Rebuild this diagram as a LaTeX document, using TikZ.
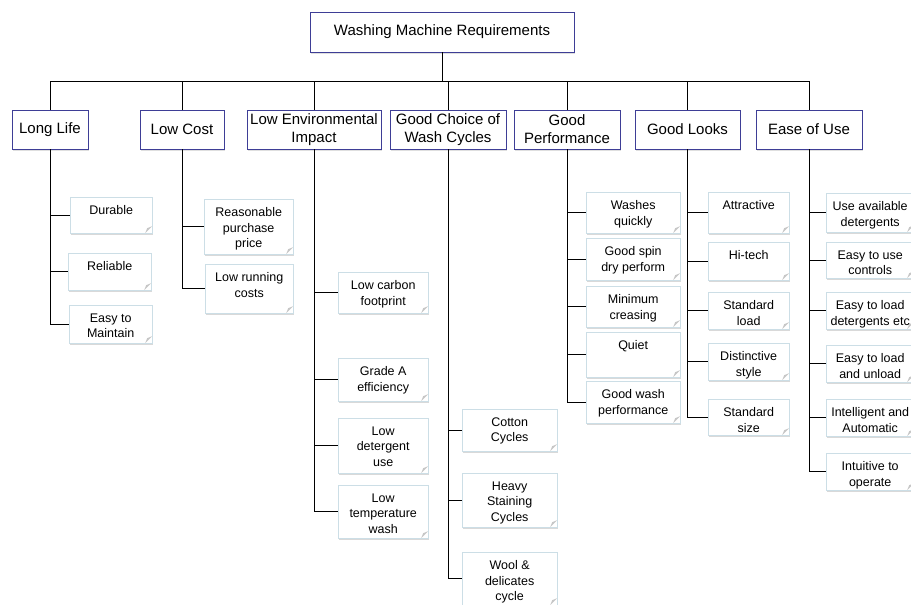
\documentclass[tikz,border=0pt]{standalone}
\usepackage{fontspec}
\setmainfont{Liberation Sans}
\usetikzlibrary{shadows}

\definecolor{catline}{RGB}{62,62,150}
\definecolor{reqline}{RGB}{204,222,230}
\newcommand{\req}[3]{\parbox[c][#2pt][t]{#1pt}{\vspace*{8.5pt}\centering #3\par}}

\begin{document}
\begin{tikzpicture}[x=1pt, y=-1pt,
    top/.style={rectangle, draw=catline, fill=white, minimum width=264pt, minimum height=40pt,
        font=\fontsize{15}{18}\selectfont, drop shadow={shadow xshift=1pt, shadow yshift=-1.5pt, opacity=0.25}},
    cat/.style={rectangle, draw=catline, fill=white, minimum width=#1pt, minimum height=39pt, inner sep=1pt,
        align=center, font=\fontsize{15}{18}\selectfont, drop shadow={shadow xshift=1pt, shadow yshift=-1.5pt, opacity=0.25}},
    leaf/.style={rectangle, draw=reqline, fill=white, anchor=north west, inner sep=0pt,
        font=\fontsize{12.5}{15.5}\selectfont, drop shadow={shadow xshift=1.2pt, shadow yshift=-1.5pt, opacity=0.3},
        path picture={\fill[gray!45] ([xshift=-7pt]path picture bounding box.south east)
            -- ([yshift=7pt]path picture bounding box.south east)
            -- ([xshift=-5pt, yshift=5pt]path picture bounding box.south east) -- cycle;}},
    link/.style={line width=1pt}]
    \useasboundingbox (0,0) rectangle (911,605);

    \node[top] (root) at (442,32) {Washing Machine Requirements};
    \coordinate (bus) at (442,81);

    % requirement groups
    \node[cat=76] (life) at (50,129.5) {Long Life};
    \node[cat=84] (cost) at (182,129.5) {Low Cost};
    \node[cat=134] (env) at (314,129.5) {Low Environmental\\Impact};
    \node[cat=116] (cycles) at (448,129.5) {Good Choice of\\Wash Cycles};
    \node[cat=106] (perf) at (567,129.5) {Good\\Performance};
    \node[cat=105] (looks) at (687.5,129.5) {Good Looks};
    \node[cat=106] (use) at (809,129.5) {Ease of Use};

    \foreach \g in {life, cost, env, cycles, perf, looks, use}
        \draw[link] (root.south) -- (bus) -| (\g.north);

    % Long Life
    \node[leaf] (durable) at (70,197) {\req{82}{36}{Durable}};
    \node[leaf] (reliable) at (68,253) {\req{83}{37}{Reliable}};
    \node[leaf] (maintain) at (69,305) {\req{83}{38}{Easy to\\Maintain}};

    % Low Cost
    \node[leaf] (price) at (204,199) {\req{89}{55}{Reasonable\\purchase\\price}};
    \node[leaf] (running) at (205,264) {\req{88}{49}{Low running\\costs}};

    % Low Environmental Impact
    \node[leaf] (carbon) at (338,272) {\req{90}{41}{Low carbon\\footprint}};
    \node[leaf] (grade) at (338,358) {\req{90}{43}{Grade A\\efficiency}};
    \node[leaf] (detergent) at (338,418) {\req{90}{55}{Low\\detergent\\use}};
    \node[leaf] (temp) at (338,485) {\req{90}{53}{Low\\temperature\\wash}};

    % Good Choice of Wash Cycles
    \node[leaf] (cotton) at (462,409) {\req{95}{42}{Cotton\\Cycles}};
    \node[leaf] (heavy) at (462,473) {\req{95}{54}{Heavy\\Staining\\Cycles}};
    \node[leaf] (wool) at (462,552) {\req{95}{53}{Wool \&\\delicates\\cycle}};

    % Good Performance
    \node[leaf] (quick) at (586,192) {\req{94}{41}{Washes\\quickly}};
    \node[leaf] (spin) at (586,238) {\req{94}{42}{Good spin\\dry perform}};
    \node[leaf] (crease) at (586,286) {\req{94}{41}{Minimum\\creasing}};
    \node[leaf] (quiet) at (586,332) {\req{94}{45}{Quiet}};
    \node[leaf] (washperf) at (586,381) {\req{94}{42}{Good wash\\performance}};

    % Good Looks
    \node[leaf] (attract) at (708,192) {\req{81}{41}{Attractive}};
    \node[leaf] (hitech) at (708,242) {\req{81}{38}{Hi-tech}};
    \node[leaf] (stdload) at (708,292) {\req{81}{37}{Standard\\load}};
    \node[leaf] (style) at (708,343) {\req{81}{37}{Distinctive\\style}};
    \node[leaf] (stdsize) at (708,399) {\req{81}{36}{Standard\\size}};

    % Ease of Use
    \node[leaf] (avail) at (826,193) {\req{88}{39}{Use available\\detergents}};
    \node[leaf] (controls) at (826,242) {\req{88}{36}{Easy to use\\controls}};
    \node[leaf] (loaddet) at (826,292) {\req{88}{37}{Easy to load\\detergents etc}};
    \node[leaf] (unload) at (826,345) {\req{88}{37}{Easy to load\\and unload}};
    \node[leaf] (auto) at (826,399) {\req{88}{37}{Intelligent and\\Automatic}};
    \node[leaf] (intuit) at (826,453) {\req{88}{37}{Intuitive to\\operate}};

    \foreach \r in {durable, reliable, maintain} \draw[link] (life.south) |- (\r.west);
    \foreach \r in {price, running} \draw[link] (cost.south) |- (\r.west);
    \foreach \r in {carbon, grade, detergent, temp} \draw[link] (env.south) |- (\r.west);
    \foreach \r in {cotton, heavy, wool} \draw[link] (cycles.south) |- (\r.west);
    \foreach \r in {quick, spin, crease, quiet, washperf} \draw[link] (perf.south) |- (\r.west);
    \foreach \r in {attract, hitech, stdload, style, stdsize} \draw[link] (looks.south) |- (\r.west);
    \foreach \r in {avail, controls, loaddet, unload, auto, intuit} \draw[link] (use.south) |- (\r.west);
\end{tikzpicture}
\end{document}
